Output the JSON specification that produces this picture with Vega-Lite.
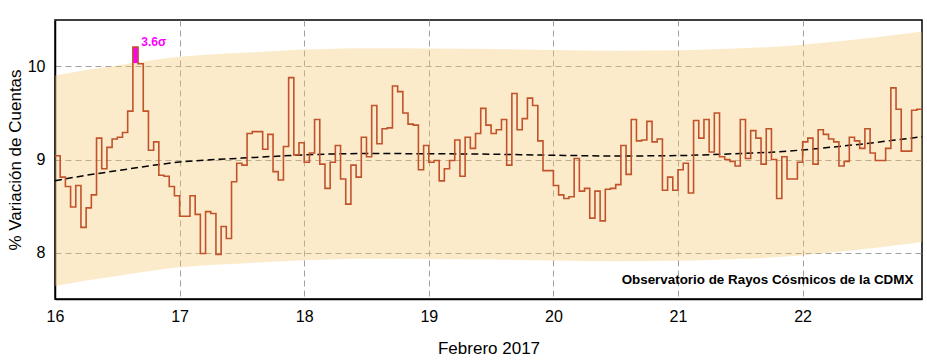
{
  "$schema": "https://vega.github.io/schema/vega-lite/v6.json",
  "width": 867,
  "height": 279,
  "autosize": {"type": "none"},
  "padding": {"left": 55, "top": 20, "right": 5, "bottom": 63},
  "background": "white",
  "config": {"view": {"stroke": "black", "strokeWidth": 1.5}, "font": "Liberation Sans"},
  "datasets": {
    "series": [
      {"t":"2017-02-16T00:00","v":9.04},{"t":"2017-02-16T01:00","v":8.81},{"t":"2017-02-16T02:00","v":8.71},{"t":"2017-02-16T03:00","v":8.49},
      {"t":"2017-02-16T04:00","v":8.72},{"t":"2017-02-16T05:00","v":8.27},{"t":"2017-02-16T06:00","v":8.48},{"t":"2017-02-16T07:00","v":8.62},
      {"t":"2017-02-16T08:00","v":9.23},{"t":"2017-02-16T09:00","v":8.90},{"t":"2017-02-16T10:00","v":9.13},{"t":"2017-02-16T11:00","v":9.22},
      {"t":"2017-02-16T12:00","v":9.24},{"t":"2017-02-16T13:00","v":9.29},{"t":"2017-02-16T14:00","v":9.52},{"t":"2017-02-16T15:00","v":10.21},
      {"t":"2017-02-16T16:00","v":10.03},{"t":"2017-02-16T17:00","v":9.52},{"t":"2017-02-16T18:00","v":9.10},{"t":"2017-02-16T19:00","v":9.19},
      {"t":"2017-02-16T20:00","v":8.83},{"t":"2017-02-16T21:00","v":8.82},{"t":"2017-02-16T22:00","v":8.71},{"t":"2017-02-16T23:00","v":8.61},
      {"t":"2017-02-17T00:00","v":8.39},{"t":"2017-02-17T01:00","v":8.39},{"t":"2017-02-17T02:00","v":8.61},{"t":"2017-02-17T03:00","v":8.41},
      {"t":"2017-02-17T04:00","v":7.99},{"t":"2017-02-17T05:00","v":8.44},{"t":"2017-02-17T06:00","v":8.42},{"t":"2017-02-17T07:00","v":7.98},
      {"t":"2017-02-17T08:00","v":8.28},{"t":"2017-02-17T09:00","v":8.15},{"t":"2017-02-17T10:00","v":8.76},{"t":"2017-02-17T11:00","v":8.96},
      {"t":"2017-02-17T12:00","v":8.94},{"t":"2017-02-17T13:00","v":9.28},{"t":"2017-02-17T14:00","v":9.30},{"t":"2017-02-17T15:00","v":9.30},
      {"t":"2017-02-17T16:00","v":9.11},{"t":"2017-02-17T17:00","v":9.27},{"t":"2017-02-17T18:00","v":8.87},{"t":"2017-02-17T19:00","v":8.78},
      {"t":"2017-02-17T20:00","v":9.14},{"t":"2017-02-17T21:00","v":9.88},{"t":"2017-02-17T22:00","v":9.05},{"t":"2017-02-17T23:00","v":9.18},
      {"t":"2017-02-18T00:00","v":8.97},{"t":"2017-02-18T01:00","v":9.07},{"t":"2017-02-18T02:00","v":9.43},{"t":"2017-02-18T03:00","v":8.95},
      {"t":"2017-02-18T04:00","v":8.69},{"t":"2017-02-18T05:00","v":8.97},{"t":"2017-02-18T06:00","v":9.15},{"t":"2017-02-18T07:00","v":8.79},
      {"t":"2017-02-18T08:00","v":8.52},{"t":"2017-02-18T09:00","v":8.94},{"t":"2017-02-18T10:00","v":8.81},{"t":"2017-02-18T11:00","v":9.24},
      {"t":"2017-02-18T12:00","v":9.03},{"t":"2017-02-18T13:00","v":9.58},{"t":"2017-02-18T14:00","v":9.17},{"t":"2017-02-18T15:00","v":9.33},
      {"t":"2017-02-18T16:00","v":9.34},{"t":"2017-02-18T17:00","v":9.79},{"t":"2017-02-18T18:00","v":9.73},{"t":"2017-02-18T19:00","v":9.50},
      {"t":"2017-02-18T20:00","v":9.38},{"t":"2017-02-18T21:00","v":9.37},{"t":"2017-02-18T22:00","v":8.89},{"t":"2017-02-18T23:00","v":9.15},
      {"t":"2017-02-19T00:00","v":8.97},{"t":"2017-02-19T01:00","v":8.99},{"t":"2017-02-19T02:00","v":8.77},{"t":"2017-02-19T03:00","v":8.90},
      {"t":"2017-02-19T04:00","v":8.99},{"t":"2017-02-19T05:00","v":9.21},{"t":"2017-02-19T06:00","v":8.82},{"t":"2017-02-19T07:00","v":9.24},
      {"t":"2017-02-19T08:00","v":9.12},{"t":"2017-02-19T09:00","v":9.28},{"t":"2017-02-19T10:00","v":9.55},{"t":"2017-02-19T11:00","v":9.37},
      {"t":"2017-02-19T12:00","v":9.28},{"t":"2017-02-19T13:00","v":9.32},{"t":"2017-02-19T14:00","v":9.43},{"t":"2017-02-19T15:00","v":8.94},
      {"t":"2017-02-19T16:00","v":9.71},{"t":"2017-02-19T17:00","v":9.32},{"t":"2017-02-19T18:00","v":9.44},{"t":"2017-02-19T19:00","v":9.66},
      {"t":"2017-02-19T20:00","v":9.58},{"t":"2017-02-19T21:00","v":9.20},{"t":"2017-02-19T22:00","v":8.88},{"t":"2017-02-19T23:00","v":8.88},
      {"t":"2017-02-20T00:00","v":8.72},{"t":"2017-02-20T01:00","v":8.62},{"t":"2017-02-20T02:00","v":8.58},{"t":"2017-02-20T03:00","v":8.60},
      {"t":"2017-02-20T04:00","v":9.01},{"t":"2017-02-20T05:00","v":8.66},{"t":"2017-02-20T06:00","v":8.69},{"t":"2017-02-20T07:00","v":8.37},
      {"t":"2017-02-20T08:00","v":8.66},{"t":"2017-02-20T09:00","v":8.34},{"t":"2017-02-20T10:00","v":8.68},{"t":"2017-02-20T11:00","v":8.69},
      {"t":"2017-02-20T12:00","v":8.73},{"t":"2017-02-20T13:00","v":9.15},{"t":"2017-02-20T14:00","v":8.84},{"t":"2017-02-20T15:00","v":9.43},
      {"t":"2017-02-20T16:00","v":9.20},{"t":"2017-02-20T17:00","v":9.21},{"t":"2017-02-20T18:00","v":9.41},{"t":"2017-02-20T19:00","v":9.19},
      {"t":"2017-02-20T20:00","v":9.22},{"t":"2017-02-20T21:00","v":8.67},{"t":"2017-02-20T22:00","v":8.81},{"t":"2017-02-20T23:00","v":8.67},
      {"t":"2017-02-21T00:00","v":8.89},{"t":"2017-02-21T01:00","v":8.96},{"t":"2017-02-21T02:00","v":8.64},{"t":"2017-02-21T03:00","v":9.42},
      {"t":"2017-02-21T04:00","v":9.23},{"t":"2017-02-21T05:00","v":9.43},{"t":"2017-02-21T06:00","v":9.08},{"t":"2017-02-21T07:00","v":9.50},
      {"t":"2017-02-21T08:00","v":9.03},{"t":"2017-02-21T09:00","v":9.00},{"t":"2017-02-21T10:00","v":8.98},{"t":"2017-02-21T11:00","v":8.93},
      {"t":"2017-02-21T12:00","v":9.43},{"t":"2017-02-21T13:00","v":9.01},{"t":"2017-02-21T14:00","v":9.31},{"t":"2017-02-21T15:00","v":9.23},
      {"t":"2017-02-21T16:00","v":8.95},{"t":"2017-02-21T17:00","v":9.33},{"t":"2017-02-21T18:00","v":9.00},{"t":"2017-02-21T19:00","v":8.58},
      {"t":"2017-02-21T20:00","v":9.03},{"t":"2017-02-21T21:00","v":8.79},{"t":"2017-02-21T22:00","v":8.79},{"t":"2017-02-21T23:00","v":8.97},
      {"t":"2017-02-22T00:00","v":9.19},{"t":"2017-02-22T01:00","v":9.23},{"t":"2017-02-22T02:00","v":8.95},{"t":"2017-02-22T03:00","v":9.32},
      {"t":"2017-02-22T04:00","v":9.27},{"t":"2017-02-22T05:00","v":9.22},{"t":"2017-02-22T06:00","v":9.19},{"t":"2017-02-22T07:00","v":8.93},
      {"t":"2017-02-22T08:00","v":8.98},{"t":"2017-02-22T09:00","v":9.24},{"t":"2017-02-22T10:00","v":9.20},{"t":"2017-02-22T11:00","v":9.12},
      {"t":"2017-02-22T12:00","v":9.33},{"t":"2017-02-22T13:00","v":9.07},{"t":"2017-02-22T14:00","v":8.99},{"t":"2017-02-22T15:00","v":8.99},
      {"t":"2017-02-22T16:00","v":9.12},{"t":"2017-02-22T17:00","v":9.77},{"t":"2017-02-22T18:00","v":9.54},{"t":"2017-02-22T19:00","v":9.09},
      {"t":"2017-02-22T20:00","v":9.09},{"t":"2017-02-22T21:00","v":9.53},{"t":"2017-02-22T22:00","v":9.54},{"t":"2017-02-22T23:00","v":9.54}
    ],
    "band": [
      {"t":"2017-02-16T00:00","trend":8.771,"lo":7.639,"hi":9.903},
      {"t":"2017-02-16T06:00","trend":8.830,"lo":7.698,"hi":9.962},
      {"t":"2017-02-16T12:00","trend":8.880,"lo":7.748,"hi":10.012},
      {"t":"2017-02-16T18:00","trend":8.930,"lo":7.798,"hi":10.062},
      {"t":"2017-02-17T00:00","trend":8.973,"lo":7.841,"hi":10.105},
      {"t":"2017-02-17T06:00","trend":8.997,"lo":7.865,"hi":10.129},
      {"t":"2017-02-17T12:00","trend":9.015,"lo":7.883,"hi":10.147},
      {"t":"2017-02-17T18:00","trend":9.033,"lo":7.901,"hi":10.165},
      {"t":"2017-02-18T00:00","trend":9.050,"lo":7.918,"hi":10.182},
      {"t":"2017-02-18T06:00","trend":9.060,"lo":7.928,"hi":10.192},
      {"t":"2017-02-18T12:00","trend":9.064,"lo":7.932,"hi":10.196},
      {"t":"2017-02-19T00:00","trend":9.062,"lo":7.930,"hi":10.194},
      {"t":"2017-02-19T12:00","trend":9.057,"lo":7.925,"hi":10.189},
      {"t":"2017-02-20T00:00","trend":9.046,"lo":7.914,"hi":10.178},
      {"t":"2017-02-20T12:00","trend":9.038,"lo":7.906,"hi":10.170},
      {"t":"2017-02-21T00:00","trend":9.042,"lo":7.910,"hi":10.174},
      {"t":"2017-02-21T06:00","trend":9.051,"lo":7.919,"hi":10.183},
      {"t":"2017-02-21T12:00","trend":9.065,"lo":7.933,"hi":10.197},
      {"t":"2017-02-21T18:00","trend":9.078,"lo":7.946,"hi":10.210},
      {"t":"2017-02-22T00:00","trend":9.103,"lo":7.971,"hi":10.235},
      {"t":"2017-02-22T06:00","trend":9.135,"lo":8.003,"hi":10.267},
      {"t":"2017-02-22T12:00","trend":9.170,"lo":8.038,"hi":10.302},
      {"t":"2017-02-22T18:00","trend":9.210,"lo":8.078,"hi":10.342},
      {"t":"2017-02-22T23:00","trend":9.245,"lo":8.113,"hi":10.377}
    ],
    "excess": [
      {"t0":"2017-02-16T15:00","t1":"2017-02-16T16:00","lo":10.036,"hi":10.21}
    ],
    "note1": [{"t":"2017-02-16T16:38","v":10.26,"label":"3.6σ"}],
    "note2": [{"t":"2017-02-22T21:20","v":7.70,"label":"Observatorio de Rayos Cósmicos de la CDMX"}]
  },
  "layer": [
    {
      "data": {"name": "band"},
      "mark": {"type": "area", "interpolate": "monotone", "color": "#f8c870", "opacity": 0.36},
      "encoding": {
        "x": {"field": "t", "type": "temporal",
          "scale": {"domain": ["2017-02-16T00:00", "2017-02-22T23:00"], "nice": false},
          "axis": {"orient": "bottom", "grid": true, "gridColor": "#a0a0a0", "gridDash": [6,4], "gridWidth": 1,
            "tickCount": {"interval": "day", "step": 1}, "labels": true, "format": "%d", "labelFontSize": 16, "labelColor": "black",
            "labelPadding": 9, "labelFlush": false, "labelOverlap": false, "ticks": false, "domain": true, "domainColor": "black", "domainWidth": 1.5,
            "title": "Febrero 2017", "titleFontSize": 17, "titleFontWeight": "normal", "titleColor": "black", "titlePadding": 16}},
        "y": {"field": "lo", "type": "quantitative",
          "scale": {"domain": [7.5, 10.5], "nice": false, "zero": false},
          "axis": {"orient": "left", "grid": true, "gridColor": "#a0a0a0", "gridDash": [6,4], "gridWidth": 1,
            "values": [8, 9, 10], "format": "d", "labels": true, "labelFontSize": 16, "labelColor": "black", "labelPadding": 10,
            "ticks": false, "domain": true, "domainColor": "black", "domainWidth": 1.5,
            "title": "% Variación de Cuentas", "titleFontSize": 17, "titleFontWeight": "normal", "titleColor": "black",
            "titlePadding": 3}},
        "y2": {"field": "hi"}
      }
    },
    {
      "data": {"name": "band"},
      "mark": {"type": "line", "interpolate": "monotone", "color": "black", "strokeDash": [7,4], "strokeWidth": 1.5},
      "encoding": {
        "x": {"field": "t", "type": "temporal"},
        "y": {"field": "trend", "type": "quantitative"}
      }
    },
    {
      "data": {"name": "excess"},
      "mark": {"type": "rect", "color": "#ff00ff"},
      "encoding": {
        "x": {"field": "t0", "type": "temporal"},
        "x2": {"field": "t1"},
        "y": {"field": "lo", "type": "quantitative"},
        "y2": {"field": "hi"}
      }
    },
    {
      "data": {"name": "series"},
      "mark": {"type": "line", "interpolate": "step-after", "color": "#c1532b", "strokeWidth": 1.6},
      "encoding": {
        "x": {"field": "t", "type": "temporal"},
        "y": {"field": "v", "type": "quantitative"}
      }
    },
    {
      "data": {"name": "note1"},
      "mark": {"type": "text", "align": "left", "baseline": "middle", "fontSize": 12, "fontWeight": "bold", "color": "#ff00ff", "font": "Liberation Sans"},
      "encoding": {
        "x": {"field": "t", "type": "temporal"},
        "y": {"field": "v", "type": "quantitative"},
        "text": {"field": "label"}
      }
    },
    {
      "data": {"name": "note2"},
      "mark": {"type": "text", "align": "right", "baseline": "middle", "fontSize": 13.4, "fontWeight": "bold", "color": "black", "font": "Liberation Sans"},
      "encoding": {
        "x": {"field": "t", "type": "temporal"},
        "y": {"field": "v", "type": "quantitative"},
        "text": {"field": "label"}
      }
    }
  ]
}
